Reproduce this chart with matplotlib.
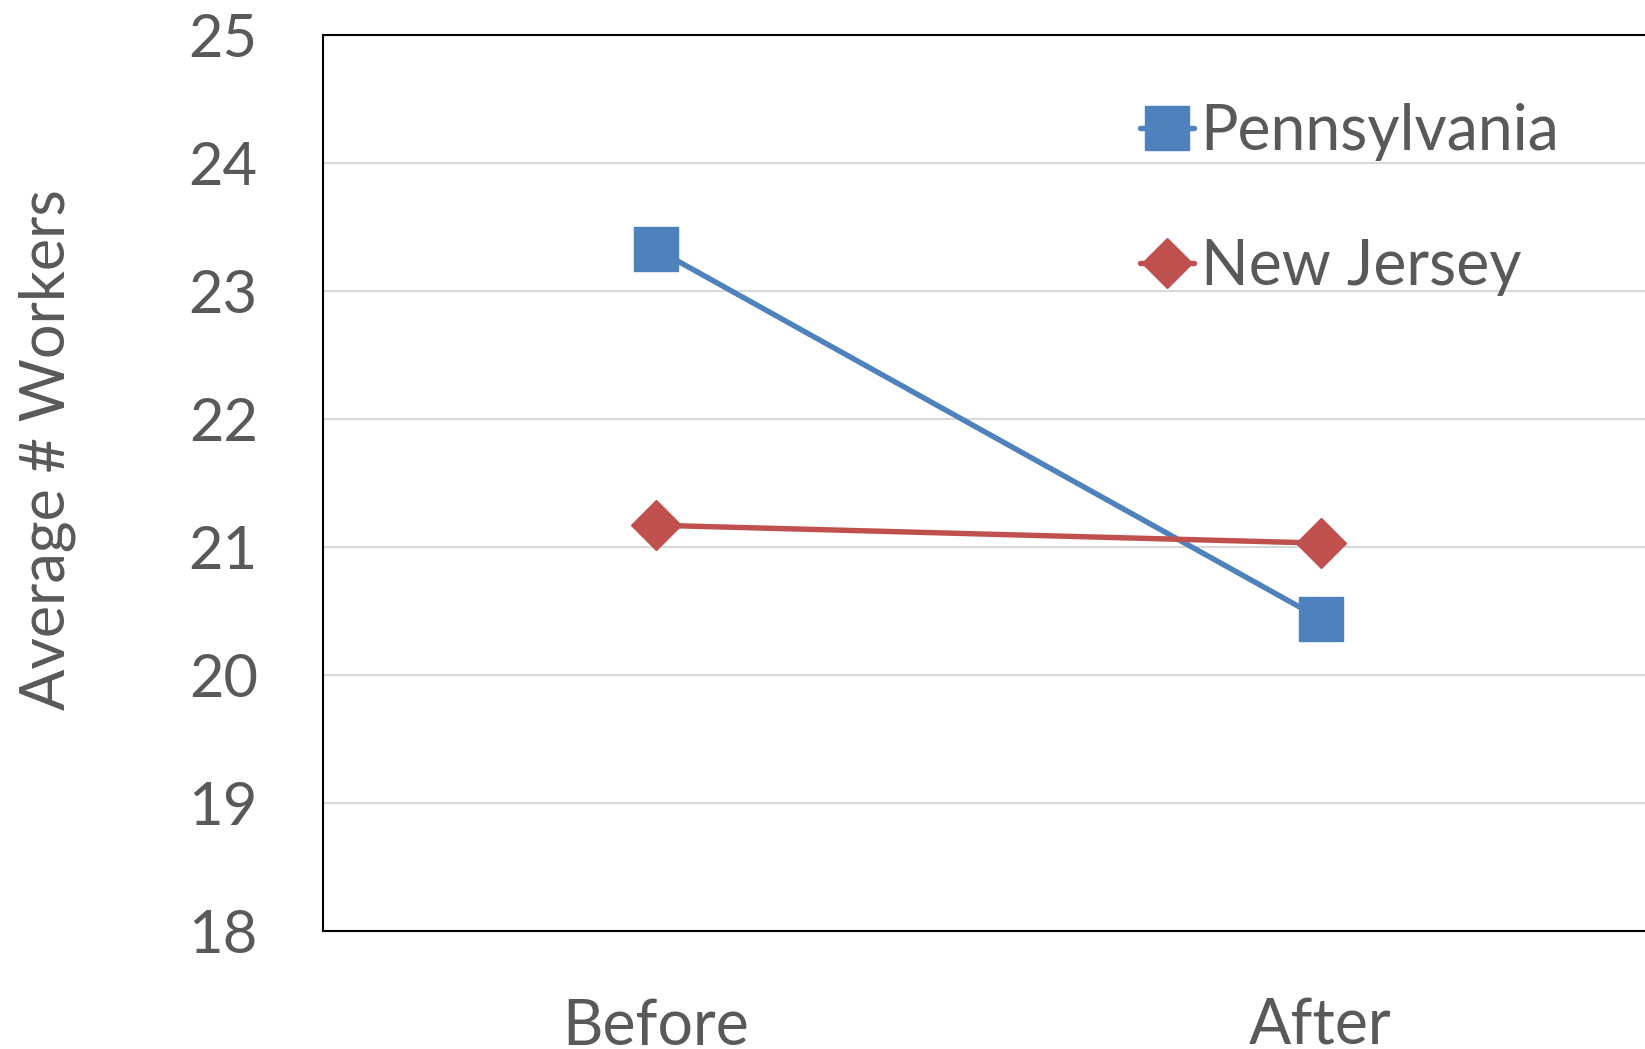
import matplotlib.pyplot as plt

# Average number of workers per store, before and after
periods = ['Before', 'After']
pennsylvania = [23.33, 20.44]
new_jersey = [21.17, 21.03]

blue = '#4F81BD'
red = '#C0504D'
text_color = '#595959'

plt.rcParams['font.family'] = ['Lato', 'DejaVu Sans']

fig = plt.figure(figsize=(16.45, 10.49), dpi=100)
ax = fig.add_axes([0.1964, 0.1125, 0.8085, 0.8542])

x = range(len(periods))
ax.plot(x, pennsylvania, color=blue, lw=3.9, marker='s', ms=31,
        mec=blue, mfc=blue, solid_capstyle='round', label='Pennsylvania', zorder=3)
ax.plot(x, new_jersey, color=red, lw=3.9, marker='D', ms=25,
        mec=red, mfc=red, solid_capstyle='round', label='New Jersey', zorder=3)

ax.set_xlim(-0.5, 1.5)
ax.set_ylim(18, 25)
ax.set_xticks(list(x))
ax.set_xticklabels(periods)
ax.set_yticks(range(18, 26))

ax.grid(axis='y', color='#D9D9D9', lw=1.5)
ax.set_axisbelow(True)
for side in ['left', 'bottom', 'top', 'right']:
    ax.spines[side].set_color('black')
    ax.spines[side].set_linewidth(1.5)

ax.tick_params(axis='y', length=0, pad=47, labelsize=43, labelcolor=text_color)
ax.tick_params(axis='x', length=0, pad=48, labelsize=45, labelcolor=text_color)

ax.set_ylabel('Average # Workers', fontsize=44, color=text_color)
ax.yaxis.set_label_coords(-0.186, 0.537)

leg = ax.legend(loc='upper left', bbox_to_anchor=(0.5955, 0.952), frameon=False,
                fontsize=45, handlelength=0.86, handletextpad=0.11,
                labelspacing=1.23, borderaxespad=0)
for t in leg.get_texts():
    t.set_color(text_color)

fig.savefig('out.png', dpi=100)
